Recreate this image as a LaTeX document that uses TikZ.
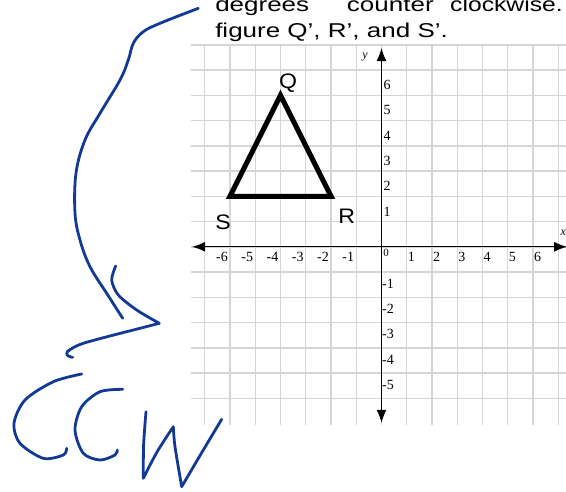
\documentclass[tikz,border=0pt]{standalone}
\usepackage{fontspec}
\setmainfont{Liberation Serif}
\newfontfamily\handsans{Liberation Sans}
\usetikzlibrary{arrows.meta}
\usepackage{xcolor}
\definecolor{ink}{RGB}{18,58,148}
\definecolor{gridgray}{RGB}{214,214,214}

\begin{document}
\begin{tikzpicture}[
    x=1pt, y=-1pt,
    gridline/.style={draw=gridgray, line width=1.4pt},
    axis/.style={draw=black, line width=1.2pt, {Latex[length=13pt,width=10pt]}-{Latex[length=13pt,width=10pt]}},
    figline/.style={draw=black, line width=5pt, line join=miter},
    numlabel/.style={font=\fontsize{14}{14}\selectfont, inner sep=0pt},
    vertexlabel/.style={font=\handsans\fontsize{21}{21}\selectfont, inner sep=0pt, xscale=1.1, transform shape},
    prose/.style={font=\handsans\fontsize{20}{24}\selectfont, inner sep=0pt, anchor=base west, xscale=1.3, transform shape},
    inkline/.style={draw=ink, line width=2.8pt, line cap=round, line join=round}
]
\clip (0,0) rectangle (566,491);

% Text
\node[prose] (deg) at (215,11) {degrees};
\node[prose] (ctr) at (346.7,11) {counter};
\node[prose, anchor=base east, xscale=0.95] (clk) at (563,11) {clockwise.};
\node[prose] (line2) at (215,37.5) {figure Q’, R’, and S’.};

% Graph paper
\begin{scope}[shift={(381.5,246.8)}, x=25.25pt, y=25.25pt]
  \begin{scope}
    \clip (-7.55,-7.02) rectangle (7.4,8.05);
    \foreach \k in {-6,...,8}
      \draw[gridline] (-7.6,\k) -- (7.4,\k);
    \foreach \k in {-7,...,7}
      \draw[gridline] (\k,-7.1) -- (\k,8);
  \end{scope}

  \draw[axis] (-7.5,0) -- (7.35,0);
  \draw[axis] (0,-6.97) -- (0,7.87);
  \node[numlabel, font=\fontsize{12}{12}\selectfont\itshape] (xname) at (7.2,0.55) {x};
  \node[numlabel, font=\fontsize{12}{12}\selectfont\itshape] (yname) at (-0.65,7.53) {y};
  \node[numlabel, font=\fontsize{11}{11}\selectfont] (zero) at (0.18,-0.26) {0};

  \foreach \k in {1,...,6} {
    \node[numlabel, anchor=north west] (xp\k) at (\k+0.04,-0.2) {\k};
    \node[numlabel, anchor=north east] (xn\k) at (-\k-0.08,-0.2) {-\k};
    \node[numlabel, anchor=west] (yp\k) at (0.08,\k+0.4) {\k};
  }
  \foreach \k in {1,...,5}
    \node[numlabel, anchor=west] (yn\k) at (0.02,-\k-0.47) {-\k};

  % Triangle
  \coordinate (S) at (-6,2);
  \coordinate (R) at (-2,2);
  \coordinate (Q) at (-4,6);
  \draw[figline] (S) -- (R) -- (Q) -- cycle;
  \node[vertexlabel] (qlab) at (-3.70,6.49) {Q};
  \node[vertexlabel] (rlab) at (-1.38,1.22) {R};
  \node[vertexlabel] (slab) at (-6.27,0.99) {S};
\end{scope}

% Handwriting
\draw[inkline] plot[smooth, tension=0.6] coordinates {(198.3,8.3) (160,23.3) (143.3,31.7) (133.3,43.3) (128.3,60) (120,80) (100,113.3) (85,140) (76,173) (75,213) (80,240) (90,266.7) (106.7,293.3) (122.7,318.3)};
\draw[inkline] plot[smooth] coordinates {(115.7,266) (111.7,280) (118.3,295) (136.7,310) (159.3,323.3)}
  -- plot[smooth] coordinates {(133.3,330) (83.3,343.3) (67.3,351.7) (68.3,356) (72.7,357.3)};
\draw[inkline] plot[smooth] coordinates {(81.7,374) (53.3,381.7) (25,400) (14,423.3) (20,443.3) (43.3,458.3) (63.3,455) (66.7,448.3)};
\draw[inkline] plot[smooth] coordinates {(122.7,389.3) (100,391.7) (81.7,406.7) (75,430) (83.3,453.3) (100,460) (115,455) (117.3,450)};
\draw[inkline] plot[smooth] coordinates {(146,411.7) (143.6,445) (143.3,478.3)}
  -- plot[smooth] coordinates {(143.3,478.3) (157,452) (173.3,426.7)}
  -- plot[smooth] coordinates {(173.3,426.7) (175,446.7) (181.7,486.7)}
  -- plot[smooth] coordinates {(181.7,486.7) (203.3,450) (221.7,419.3)};

\end{tikzpicture}
\end{document}
